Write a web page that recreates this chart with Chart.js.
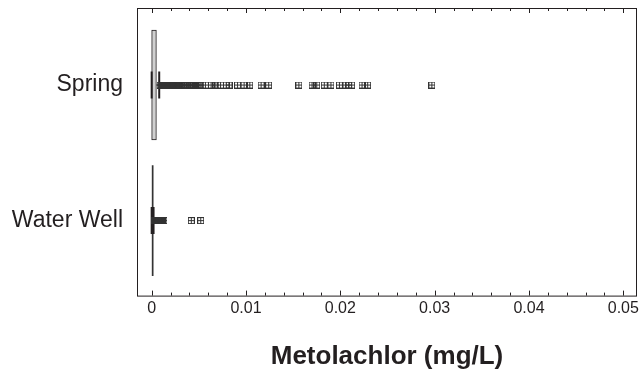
<!DOCTYPE html>
<html>
<head>
<meta charset="utf-8">
<script src="https://cdn.jsdelivr.net/npm/chart.js@4/dist/chart.umd.min.js"></script>
<style>
  body { margin: 0; background: #fff; }
  #chart { display: block; }
</style>
</head>
<body>
<canvas id="chart" width="642" height="374"></canvas>
<script>
// categories (0 = top row)
const categories = ['Spring', 'Water Well'];
const categoryIndex = [0, 1];

// box ranges (Q1, Q3) in mg/L
const boxRanges = [[0, 0.0005], [0.00005, 0.00016]];

// whiskers: upper end of the box to the whisker cap
const whiskers = [[0.0005, 0.0008], [0.00016, 0.0002]];
const whiskerCaps = [[0, 0.0008], [0, 0.0002]];

// outliers
const springOutliers = [
    0.0009, 0.0010, 0.0011, 0.0012, 0.0013, 0.0014, 0.0015, 0.0016, 0.0017,
    0.0018, 0.0019, 0.0020, 0.0021, 0.0022, 0.0023, 0.0025, 0.0026, 0.0028,
    0.0029, 0.0031, 0.0032, 0.0034, 0.0036, 0.0038, 0.0040, 0.0042, 0.0044,
    0.0046, 0.0048, 0.0050, 0.0052, 0.0057, 0.0063, 0.0068, 0.0073, 0.0079,
    0.0082, 0.0091, 0.0098, 0.0104, 0.0116, 0.0124, 0.0156, 0.0170, 0.0175,
    0.0183, 0.0190, 0.0199, 0.0206, 0.0209, 0.0212, 0.0223, 0.0229, 0.0297
];
const wellOutliers = [
    0.0003, 0.0004, 0.0005, 0.0006, 0.0007, 0.0008, 0.0009, 0.0010, 0.0011,
    0.0012, 0.0013, 0.0042, 0.0052
];

// axis ticks
const xTickValues = [
    0, 0.002, 0.004, 0.006, 0.008, 0.01, 0.012, 0.014, 0.016, 0.018,
    0.02, 0.022, 0.024, 0.026, 0.028, 0.03, 0.032, 0.034, 0.036, 0.038,
    0.04, 0.042, 0.044, 0.046, 0.048, 0.05
];
const xTickLabels = ['0', '0.01', '0.02', '0.03', '0.04', '0.05'];

const INK = '#231f20';
const FONT = "'Liberation Sans', Arial, sans-serif";

function makeMarker() {
    const c = document.createElement('canvas');
    c.width = 7;
    c.height = 7;
    const g = c.getContext('2d');
    g.strokeStyle = '#333';
    g.lineWidth = 1;
    g.strokeRect(0.5, 0.5, 6, 6);
    g.beginPath();
    g.moveTo(3.5, 0.5); g.lineTo(3.5, 6.5);
    g.moveTo(0.5, 3.5); g.lineTo(6.5, 3.5);
    g.stroke();
    return c;
}

const marker = makeMarker();

function toPoints(values, row) {
    return values.map(v => ({ x: v, y: row }));
}

// frame and inward tick marks on top and bottom
const framePlugin = {
    id: 'frame',
    afterDraw(chart) {
        const ctx = chart.ctx;
        const area = chart.chartArea;
        const xs = chart.scales.x;
        ctx.save();
        ctx.strokeStyle = INK;
        ctx.lineWidth = 1;
        ctx.strokeRect(area.left + 0.5, area.top + 0.5, area.right - area.left - 1, area.bottom - area.top);
        ctx.beginPath();
        xTickValues.forEach((v, i) => {
            const px = Math.round(xs.getPixelForValue(v)) + 0.5;
            const len = i % 5 === 0 ? 5 : 3;
            ctx.moveTo(px, area.bottom);
            ctx.lineTo(px, area.bottom - len);
            ctx.moveTo(px, area.top);
            ctx.lineTo(px, area.top + len);
        });
        ctx.stroke();
        ctx.restore();
    }
};

const datasets = [
    {
        type: 'scatter',
        data: toPoints(springOutliers, categoryIndex[0]).concat(toPoints(wellOutliers, categoryIndex[1])),
        pointStyle: marker,
        radius: 3.5
    },
    {
        type: 'scatter',
        data: whiskerCaps.flatMap((caps, i) => toPoints(caps, categoryIndex[i])),
        pointStyle: 'line',
        rotation: 90,
        radius: 13.5,
        borderWidth: 2,
        borderColor: INK,
        backgroundColor: INK
    },
    ...whiskers.map((w, i) => ({
        type: 'line',
        data: toPoints(w, categoryIndex[i]),
        borderColor: INK,
        borderWidth: 1,
        pointRadius: 0
    })),
    {
        type: 'bar',
        indexAxis: 'y',
        data: boxRanges.map((r, i) => ({ x: r, y: categoryIndex[i] })),
        barThickness: 110,
        backgroundColor: ['#d0d0d0', '#333'],
        borderColor: INK,
        borderWidth: [1, 0],
        borderSkipped: false
    }
];

new Chart(document.getElementById('chart').getContext('2d'), {
    type: 'scatter',
    data: { datasets },
    options: {
        responsive: false,
        animation: false,
        events: [],
        layout: { autoPadding: false, padding: { top: 8, right: 4, left: 0, bottom: 0 } },
        plugins: {
            legend: { display: false },
            tooltip: { enabled: false }
        },
        scales: {
            x: {
                type: 'linear',
                position: 'bottom',
                offset: false,
                min: -0.001555,
                max: 0.05145,
                afterBuildTicks: scale => {
                    scale.ticks = xTickValues.map(v => ({ value: v }));
                },
                grid: { display: false, drawTicks: false, offset: false },
                border: { display: false },
                ticks: {
                    autoSkip: false,
                    maxRotation: 0,
                    padding: 3,
                    color: INK,
                    font: { family: FONT, size: 16 },
                    callback: (value, index) => index % 5 === 0 ? xTickLabels[index / 5] : ''
                },
                title: {
                    display: true,
                    text: 'Metolachlor (mg/L)',
                    color: INK,
                    font: { family: FONT, size: 26, weight: 'bold' },
                    padding: { top: 20.5, bottom: 1.5 }
                }
            },
            y: {
                type: 'linear',
                position: 'left',
                reverse: true,
                offset: false,
                min: -0.568,
                max: 1.553,
                afterBuildTicks: scale => {
                    scale.ticks = categoryIndex.map(v => ({ value: v }));
                },
                afterFit: scale => {
                    scale.width = 137;
                    scale.paddingTop = 0;
                    scale.paddingBottom = 0;
                },
                grid: { display: false, drawTicks: false, offset: false },
                border: { display: false },
                ticks: {
                    padding: 14,
                    color: INK,
                    font: { family: FONT, size: 23 },
                    callback: value => categories[value]
                }
            }
        }
    },
    plugins: [framePlugin]
});
</script>
</body>
</html>
